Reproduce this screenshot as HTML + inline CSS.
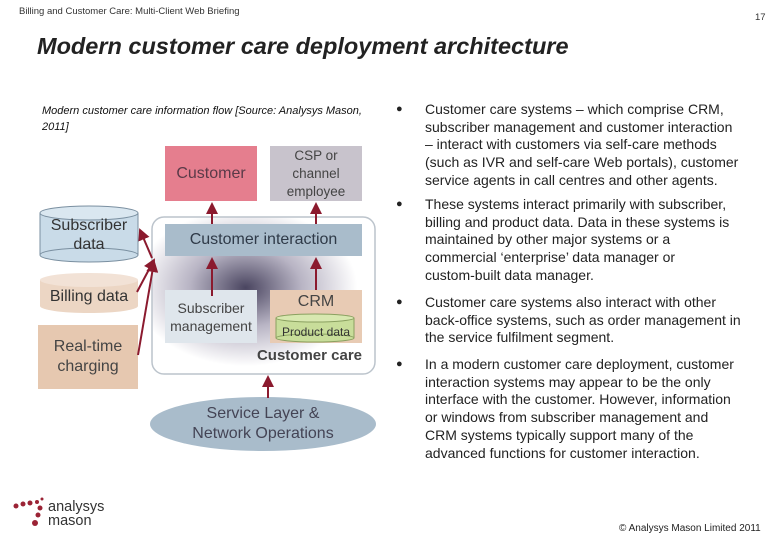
<!DOCTYPE html>
<html><head><style>
body{margin:0;width:780px;height:540px;background:#fff;font-family:"Liberation Sans",sans-serif;position:relative;overflow:hidden}
.a{position:absolute}
.c{display:flex;align-items:center;justify-content:center;text-align:center}
.b{position:absolute;left:425px;font-size:14px;line-height:17.7px;color:#222;white-space:nowrap}
.d{position:absolute;left:396px;font-size:11px;color:#222}
</style></head><body>
<div class="a" style="left:19px;top:6px;font-size:9.5px;color:#333">Billing and Customer Care: Multi-Client Web Briefing</div>
<div class="a" style="left:755px;top:12px;font-size:9.5px;color:#333">17</div>
<div class="a" style="left:37px;top:33px;font-size:23.5px;font-weight:bold;font-style:italic;color:#222">Modern customer care deployment architecture</div>
<div class="a" style="left:42px;top:103px;width:320px;font-size:11px;font-style:italic;line-height:16px;color:#111">Modern customer care information flow [Source: Analysys Mason, 2011]</div>

<svg class="a" style="left:0;top:0" width="780" height="540">
<defs>
<radialGradient id="g" cx="0.42" cy="0.45" r="0.5"><stop offset="0" stop-color="#4a4560"/><stop offset="0.5" stop-color="#b8b4c4"/><stop offset="1" stop-color="#fff"/></radialGradient>
<marker id="m" markerWidth="6" markerHeight="6" refX="5" refY="3" orient="auto"><path d="M0,0L6,3L0,6z" fill="#8b1a2e"/></marker>
</defs>
<rect x="152" y="217" width="223" height="157" rx="12" fill="url(#g)" stroke="#bcc4cc" stroke-width="1.5"/>
<rect x="165" y="146" width="92" height="55" fill="#e57e8e"/>
<rect x="270" y="146" width="92" height="55" fill="#c8c3cc"/>
<rect x="165" y="224" width="197" height="32" fill="#a9bccb"/>
<rect x="165" y="290" width="92" height="53" fill="#dfe6ec"/>
<rect x="270" y="290" width="92" height="53" fill="#e8cbb4"/>
<rect x="276" y="318" width="78" height="20" fill="#c8dd9a"/>
<ellipse cx="315" cy="338" rx="39" ry="4" fill="#c8dd9a" stroke="#8aa060"/>
<ellipse cx="315" cy="318" rx="39" ry="4" fill="#d8e8b0" stroke="#8aa060"/>
<line x1="276" y1="318" x2="276" y2="338" stroke="#8aa060"/><line x1="354" y1="318" x2="354" y2="338" stroke="#8aa060"/>
<rect x="40" y="213" width="98" height="42" fill="#c9dbe8"/>
<ellipse cx="89" cy="255" rx="49" ry="7" fill="#c9dbe8" stroke="#7a8fa0"/>
<ellipse cx="89" cy="213" rx="49" ry="7" fill="#dae7f0" stroke="#7a8fa0"/>
<line x1="40" y1="213" x2="40" y2="255" stroke="#7a8fa0"/><line x1="138" y1="213" x2="138" y2="255" stroke="#7a8fa0"/>
<rect x="40" y="280" width="98" height="26" fill="#ecd6c4"/>
<ellipse cx="89" cy="306" rx="49" ry="7" fill="#ecd6c4"/>
<ellipse cx="89" cy="280" rx="49" ry="7" fill="#f2e2d6"/>
<rect x="38" y="325" width="100" height="64" fill="#e6c8b0"/>
<ellipse cx="263" cy="424" rx="113" ry="27" fill="#a9bccb"/>
<g stroke="#8b1a2e" stroke-width="2" fill="none" marker-end="url(#m)">
<line x1="212" y1="224" x2="212" y2="204"/>
<line x1="316" y1="224" x2="316" y2="204"/>
<line x1="212" y1="296" x2="212" y2="259"/>
<line x1="316" y1="290" x2="316" y2="259"/>
<line x1="268" y1="398" x2="268" y2="377"/>
<line x1="152" y1="258" x2="140" y2="230"/>
<line x1="137" y1="292" x2="154" y2="260"/>
<line x1="138" y1="355" x2="154" y2="262"/>
</g>
</svg>
<div class="a c" style="left:165px;top:146px;width:92px;height:55px;font-size:16px;color:#5a3a48">Customer</div>
<div class="a c" style="left:270px;top:146px;width:92px;height:55px;font-size:13.5px;color:#444;line-height:18px">CSP or<br>channel<br>employee</div>
<div class="a c" style="left:165px;top:224px;width:197px;height:32px;font-size:16px;color:#2f3a48">Customer interaction</div>
<div class="a c" style="left:160px;top:290px;width:102px;height:53px;font-size:14px;color:#444;line-height:18px">Subscriber<br>management</div>
<div class="a c" style="left:270px;top:290px;width:92px;height:24px;font-size:16px;color:#444">CRM</div>
<div class="a c" style="left:270px;top:322px;width:92px;height:20px;font-size:12px;color:#333">Product data</div>
<div class="a" style="left:200px;top:347px;width:162px;text-align:right;font-size:15px;font-weight:bold;color:#444">Customer care</div>
<div class="a c" style="left:40px;top:214px;width:98px;height:42px;font-size:16px;color:#333;line-height:19px">Subscriber<br>data</div>
<div class="a c" style="left:40px;top:284px;width:98px;height:26px;font-size:16px;color:#333">Billing data</div>
<div class="a c" style="left:38px;top:325px;width:100px;height:64px;font-size:16px;color:#444;line-height:20px">Real-time<br>charging</div>
<div class="a c" style="left:150px;top:397px;width:226px;height:54px;font-size:16px;color:#445;line-height:20px">Service Layer &amp;<br>Network Operations</div>

<div class="d" style="top:103px">●</div>
<div class="b" style="top:101px">Customer care systems – which comprise CRM,<br>subscriber management and customer interaction<br>– interact with customers via self-care methods<br>(such as IVR and self-care Web portals), customer<br>service agents in call centres and other agents.</div>
<div class="d" style="top:198px">●</div>
<div class="b" style="top:196px">These systems interact primarily with subscriber,<br>billing and product data. Data in these systems is<br>maintained by other major systems or a<br>commercial ‘enterprise’ data manager or<br>custom-built data manager.</div>
<div class="d" style="top:296px">●</div>
<div class="b" style="top:294px">Customer care systems also interact with other<br>back-office systems, such as order management in<br>the service fulfilment segment.</div>
<div class="d" style="top:358px">●</div>
<div class="b" style="top:356px">In a modern customer care deployment, customer<br>interaction systems may appear to be the only<br>interface with the customer. However, information<br>or windows from subscriber management and<br>CRM systems typically support many of the<br>advanced functions for customer interaction.</div>

<svg class="a" style="left:12px;top:496px" width="40" height="40">
<g fill="#9b2335"><circle cx="4" cy="10" r="2.5"/><circle cx="11" cy="8" r="2.5"/><circle cx="18" cy="7" r="2.5"/><circle cx="25" cy="6" r="2"/><circle cx="28" cy="12" r="2.5"/><circle cx="26" cy="19" r="2.5"/><circle cx="23" cy="27" r="3"/><circle cx="30" cy="3" r="1.5"/></g>
</svg>
<div class="a" style="left:48px;top:500px;font-size:14.5px;line-height:14px;color:#333">analysys<br>mason</div>
<div class="a" style="left:619px;top:523px;font-size:10px;color:#222">© Analysys Mason Limited 2011</div>
</body></html>
